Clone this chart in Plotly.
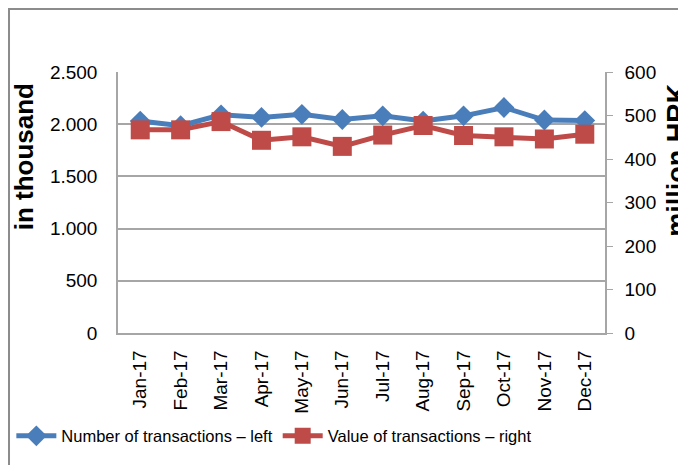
import plotly.graph_objects as go

months = ["Jan-17", "Feb-17", "Mar-17", "Apr-17", "May-17", "Jun-17",
          "Jul-17", "Aug-17", "Sep-17", "Oct-17", "Nov-17", "Dec-17"]
# number of transactions, thousand (left axis)
num_tx = [2030, 1985, 2090, 2065, 2095, 2045, 2080, 2030, 2080, 2160, 2040, 2035]
# value of transactions, million HRK (right axis)
val_tx = [467, 467, 486, 443, 451, 429, 455, 477, 454, 451, 446, 457]

blue = "#4a7ebb"
red = "#be4b48"
grid = "#a6a6a6"
font = "Liberation Sans, Arial, sans-serif"

fig = go.Figure()
fig.add_trace(go.Scatter(
    x=months, y=num_tx, name="Number of transactions \u2013 left",
    mode="lines+markers",
    line=dict(color=blue, width=5),
    marker=dict(symbol="diamond", size=16, color=blue),
))
fig.add_trace(go.Scatter(
    x=months, y=val_tx, name="Value of transactions \u2013 right",
    mode="lines+markers", yaxis="y2",
    line=dict(color=red, width=5),
    marker=dict(symbol="square", size=19, color=red),
))

# page body adds an 8px offset, margins are reduced to compensate
fig.update_layout(
    width=686, height=465,
    margin=dict(l=110, r=89, t=64, b=140, autoexpand=False),
    paper_bgcolor="white", plot_bgcolor="white",
    font=dict(family=font, size=19, color="black"),
    separators=",.",
    showlegend=True,
    legend=dict(orientation="h", x=-0.219, xanchor="left", y=-0.395, yanchor="middle",
                font=dict(size=16.5), itemwidth=40, tracegroupgap=0,
                bgcolor="rgba(0,0,0,0)"),
    xaxis=dict(
        tickangle=-90, showgrid=False, showline=True, linecolor=grid, linewidth=1.5,
        ticks="", tickfont=dict(size=19), range=[-0.55, 11.5], ticklabelstandoff=8,
        automargin=False,
    ),
    yaxis=dict(
        range=[0, 2500], dtick=500, tickformat=",d", showgrid=True, gridcolor=grid,
        gridwidth=1.5, showline=True, linecolor=grid, linewidth=1.5, ticks="",
        zeroline=False, ticklabelstandoff=15, automargin=False,
    ),
    yaxis2=dict(
        range=[0, 600], dtick=100, overlaying="y", side="right", showgrid=False,
        showline=True, linecolor=grid, linewidth=1.5, ticks="outside", ticklen=6,
        tickcolor=grid, zeroline=False, ticklabelstandoff=8, automargin=False,
    ),
)

# axis titles
fig.add_annotation(text="<b>in thousand</b>", textangle=-90, xref="paper", yref="paper",
                   x=-0.194, y=0.675, xanchor="center", yanchor="middle",
                   showarrow=False, font=dict(size=26))
fig.add_annotation(text="<b>million HRK</b>", textangle=-90, xref="paper", yref="paper",
                   x=1.148, y=0.66, xanchor="center", yanchor="middle",
                   showarrow=False, font=dict(size=27))

# outer chart frame (cropped)
fig.add_shape(type="rect", xref="paper", yref="paper",
              x0=-0.2238, y0=-0.6, x1=1.3, y1=1.2414,
              line=dict(color="#8c8c8c", width=2), layer="below")

fig.write_html("out.html")
